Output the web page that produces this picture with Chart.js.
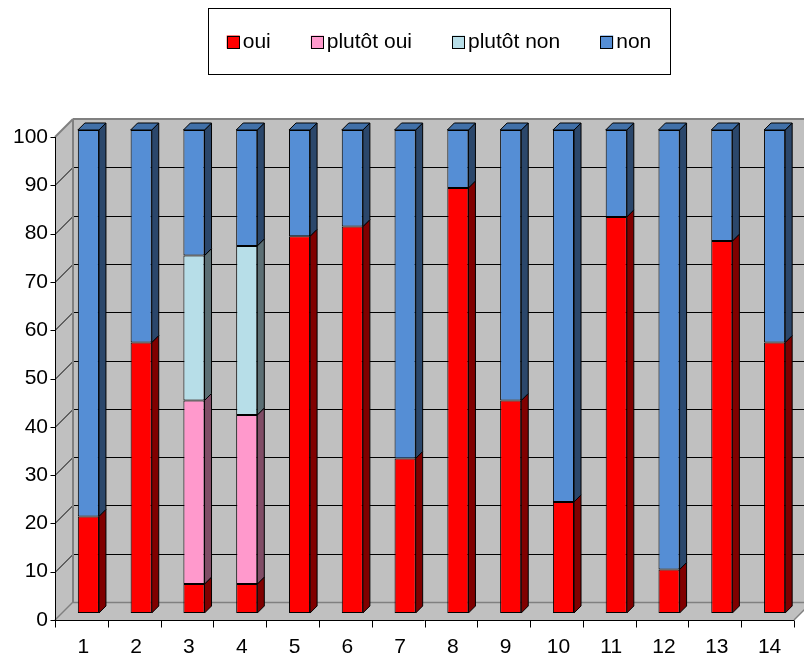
<!DOCTYPE html>
<html>
<head>
<meta charset="utf-8">
<script src="https://cdn.jsdelivr.net/npm/chart.js@4/dist/chart.umd.min.js"></script>
<style>
  body { margin: 0; background: #fff; }
  #wrap { width: 804px; height: 659px; }
</style>
</head>
<body>
<div id="wrap"><canvas id="c" width="804" height="659"></canvas></div>
<script>
// Data (percentages per question)
const categories = ['1', '2', '3', '4', '5', '6', '7', '8', '9', '10', '11', '12', '13', '14'];
const ouiValues        = [20, 56,  6,  6, 78, 80, 32, 88, 44, 23, 82,  9, 77, 56];
const plutotOuiValues  = [ 0,  0, 38, 35,  0,  0,  0,  0,  0,  0,  0,  0,  0,  0];
const plutotNonValues  = [ 0,  0, 30, 35,  0,  0,  0,  0,  0,  0,  0,  0,  0,  0];
const nonValues        = [80, 44, 26, 24, 22, 20, 68, 12, 56, 77, 18, 91, 23, 44];
const seriesNames = ['oui', 'plutôt oui', 'plutôt non', 'non'];
const yTicks = { min: 0, max: 100, step: 10 };

// front / side / top colours for each series
const faceColors = [
  { front: '#FF0000', side: '#800000', top: '#C00000' },
  { front: '#FF99CC', side: '#804D66', top: '#CC7AA3' },
  { front: '#B7DEE8', side: '#5C6F74', top: '#93B2BA' },
  { front: '#558ED5', side: '#2B476B', top: '#4170A8' }
];

const FONT = "'Liberation Sans', Arial, sans-serif";
const DEPTH = 7;   // bar depth
const BACK = 11;   // back wall offset from bar plane
const FRONT = 7;   // front axis offset from bar plane

function poly(ctx, pts, fill, stroke, lw) {
  ctx.beginPath();
  ctx.moveTo(pts[0][0], pts[0][1]);
  for (let i = 1; i < pts.length; i++) ctx.lineTo(pts[i][0], pts[i][1]);
  ctx.closePath();
  if (fill) { ctx.fillStyle = fill; ctx.fill(); }
  if (stroke) { ctx.strokeStyle = stroke; ctx.lineWidth = lw || 1; ctx.stroke(); }
}

function line(ctx, x1, y1, x2, y2, color, lw) {
  ctx.beginPath();
  ctx.moveTo(x1, y1);
  ctx.lineTo(x2, y2);
  ctx.strokeStyle = color;
  ctx.lineWidth = lw || 1;
  ctx.stroke();
}

// Walls, floor, gridlines and front axes of the 3D box
const box3d = {
  id: 'box3d',
  beforeDatasetsDraw(chart) {
    const { ctx, chartArea: a, scales: { x, y } } = chart;
    const y0 = y.getPixelForValue(yTicks.min);
    const y1 = y.getPixelForValue(yTicks.max);
    const rightEdge = chart.width + 40;
    ctx.save();
    // back wall
    poly(ctx, [[a.left + BACK, y1 - BACK], [rightEdge, y1 - BACK], [rightEdge, y0 - BACK], [a.left + BACK, y0 - BACK]], '#C0C0C0');
    // left wall
    poly(ctx, [[a.left - FRONT, y0 + FRONT], [a.left - FRONT, y1 + FRONT], [a.left + BACK, y1 - BACK], [a.left + BACK, y0 - BACK]], '#C0C0C0');
    // floor
    poly(ctx, [[a.left - FRONT, y0 + FRONT], [a.right - FRONT, y0 + FRONT], [a.right + BACK, y0 - BACK], [a.left + BACK, y0 - BACK]], '#C0C0C0');

    // gridlines on back and left walls
    for (let v = yTicks.min + yTicks.step; v < yTicks.max; v += yTicks.step) {
      const py = Math.round(y.getPixelForValue(v)) + 0.5;
      line(ctx, a.left + BACK, py - BACK, rightEdge, py - BACK, '#000');
      line(ctx, a.left - FRONT, py + FRONT, a.left + BACK, py - BACK, '#000');
    }
    // wall edges
    const g = '#808080';
    line(ctx, a.left + BACK, y1 - BACK, rightEdge, y1 - BACK, g, 2);
    line(ctx, a.left - FRONT, y1 + FRONT, a.left + BACK, y1 - BACK, g, 2);
    line(ctx, a.left + BACK, y1 - BACK, a.left + BACK, y0 - BACK, g, 2);
    line(ctx, a.left + BACK, y0 - BACK + 0.5, rightEdge, y0 - BACK + 0.5, g, 1.5);
    line(ctx, a.left - FRONT, y0 + FRONT, a.left + BACK, y0 - BACK, g, 1.5);
    line(ctx, a.right - FRONT, y0 + FRONT, a.right + BACK, y0 - BACK, g, 1.5);

    // front value axis with ticks
    const ax = Math.round(a.left - FRONT) + 0.5;
    line(ctx, ax, y0 + FRONT, ax, y1 + FRONT, '#000');
    for (let v = yTicks.min; v <= yTicks.max; v += yTicks.step) {
      const py = Math.round(y.getPixelForValue(v) + FRONT) + 0.5;
      line(ctx, ax - 5, py, ax, py, '#000');
    }
    // front category axis with ticks between categories
    const ay = Math.round(y0 + FRONT) + 0.5;
    line(ctx, a.left - FRONT, ay, a.right - FRONT, ay, '#000');
    const step = x.getPixelForValue(1) - x.getPixelForValue(0);
    for (let i = 0; i <= categories.length; i++) {
      const px = Math.round(x.getPixelForValue(0) - step / 2 + i * step - FRONT) + 0.5;
      line(ctx, px, ay, px, ay + 7, '#000');
    }
    ctx.restore();
  },
  // side and top faces of every bar segment
  afterDatasetsDraw(chart) {
    const { ctx } = chart;
    const n = chart.data.labels.length;
    ctx.save();
    ctx.lineJoin = 'round';
    for (let i = 0; i < n; i++) {
      let topIdx = -1;
      chart.data.datasets.forEach((ds, d) => { if (ds.data[i] > 0) topIdx = d; });
      chart.data.datasets.forEach((ds, d) => {
        const el = chart.getDatasetMeta(d).data[i];
        if (!el || !(ds.data[i] > 0)) return;
        const x0 = el.x - el.width / 2, x1 = el.x + el.width / 2;
        const top = Math.min(el.y, el.base), bot = Math.max(el.y, el.base);
        const c = faceColors[d];
        poly(ctx, [[x1, top], [x1 + DEPTH, top - DEPTH], [x1 + DEPTH, bot - DEPTH], [x1, bot]], c.side, '#000', 1);
        if (d === topIdx) {
          poly(ctx, [[x0, top], [x1, top], [x1 + DEPTH, top - DEPTH], [x0 + DEPTH, top - DEPTH]], c.top, '#000', 1);
        }
      });
    }
    ctx.restore();
  }
};

// Boxed legend above the plot
const boxLegend = {
  id: 'boxLegend',
  afterDraw(chart, args, opts) {
    const { ctx } = chart;
    ctx.save();
    ctx.font = opts.fontSize + 'px ' + FONT;
    ctx.textBaseline = 'middle';
    const items = chart.data.datasets.map((ds, d) => ({ text: ds.label, color: faceColors[d].front, w: ctx.measureText(ds.label).width }));
    let total = 0;
    items.forEach((it, k) => { total += opts.square + opts.gap + it.w + (k < items.length - 1 ? opts.spacing : 0); });
    const b = opts.box;
    ctx.fillStyle = '#fff';
    ctx.fillRect(b.left, b.top, b.width, b.height);
    ctx.strokeStyle = '#000';
    ctx.lineWidth = 1;
    ctx.strokeRect(b.left + 0.5, b.top + 0.5, b.width, b.height);
    let px = b.left + (b.width - total) / 2;
    const cy = b.top + b.height / 2 + 1;
    items.forEach(it => {
      ctx.fillStyle = it.color;
      ctx.fillRect(px, cy - opts.square / 2, opts.square, opts.square);
      ctx.strokeRect(Math.round(px) + 0.5, Math.round(cy - opts.square / 2) + 0.5, opts.square - 1, opts.square - 1);
      ctx.fillStyle = '#000';
      ctx.fillText(it.text, px + opts.square + opts.gap, cy);
      px += opts.square + opts.gap + it.w + opts.spacing;
    });
    ctx.restore();
  }
};

const seriesValues = [ouiValues, plutotOuiValues, plutotNonValues, nonValues];

new Chart(document.getElementById('c').getContext('2d'), {
  type: 'bar',
  data: {
    labels: categories,
    datasets: seriesValues.map((vals, d) => ({
      label: seriesNames[d],
      data: vals,
      backgroundColor: faceColors[d].front,
      borderColor: '#000',
      borderWidth: 1,
      borderSkipped: false,
      categoryPercentage: 1,
      barPercentage: 0.4
    }))
  },
  options: {
    responsive: false,
    animation: false,
    layout: { padding: { top: 130, right: 3, left: 0, bottom: 0 } },
    plugins: {
      legend: { display: false },
      tooltip: { enabled: false },
      boxLegend: { box: { left: 208, top: 8, width: 462, height: 66 }, fontSize: 21, square: 13, gap: 3, spacing: 40 }
    },
    scales: {
      x: {
        stacked: true,
        grid: { display: false },
        border: { display: false },
        ticks: { color: '#000', font: { family: FONT, size: 21 }, padding: 14, labelOffset: -5, maxRotation: 0, autoSkip: false },
        afterFit(s) { s.height = 46; }
      },
      y: {
        stacked: true,
        min: yTicks.min,
        max: yTicks.max,
        grid: { display: false },
        border: { display: false },
        ticks: { stepSize: yTicks.step, color: '#000', font: { family: FONT, size: 21 }, padding: 6, labelOffset: 7 },
        afterFit(s) { s.width = 62; }
      }
    }
  },
  plugins: [box3d, boxLegend]
});
</script>
</body>
</html>
